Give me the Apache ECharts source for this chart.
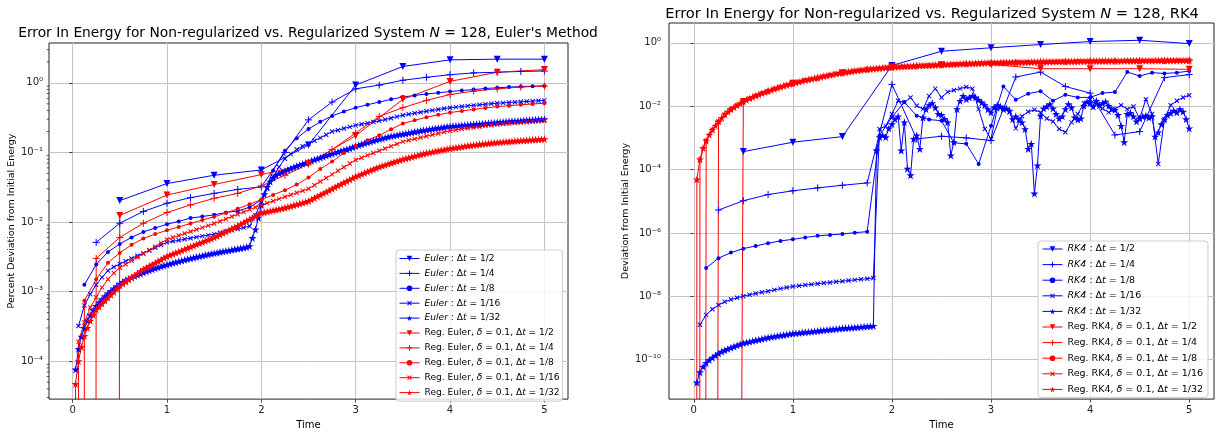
<!DOCTYPE html>
<html>
<head>
<meta charset="utf-8">
<script src="https://cdn.jsdelivr.net/npm/echarts@6/dist/echarts.min.js"></script>
<style>
  html, body { margin: 0; padding: 0; background: #ffffff; }
  #chart { width: 1218px; height: 435px; }
</style>
</head>
<body>
<div id="chart"></div>
<script>
// ---------------------------------------------------------------------------
// Energy error, N = 128. Time step labels and their sizes.
// ---------------------------------------------------------------------------
const stepLabels = ['1/2', '1/4', '1/8', '1/16', '1/32'];
const stepSizes = [0.5, 0.25, 0.125, 0.0625, 0.03125];

// Euler (non-regularized): samples at t = dt, 2dt, ..., 5
const eulerDt2 = [0.0203, 0.0357, 0.047, 0.056, 0.128, 0.93, 1.72, 2.14, 2.19, 2.19];
const eulerDt4 = [0.0051, 0.0096, 0.0142, 0.0186, 0.0224, 0.0258, 0.0294, 0.032, 0.10, 0.294,
  0.53, 0.82, 0.93, 1.09, 1.2, 1.31, 1.39, 1.42, 1.46, 1.48];
const eulerDt8 = [0.00125, 0.00246, 0.0037, 0.00485, 0.006, 0.0072, 0.0082, 0.0093, 0.0102, 0.0114,
  0.012, 0.0127, 0.0137, 0.0144, 0.0163, 0.0207, 0.055, 0.106, 0.16, 0.217,
  0.275, 0.335, 0.386, 0.44, 0.485, 0.53, 0.58, 0.625, 0.66, 0.69,
  0.72, 0.75, 0.777, 0.80, 0.83, 0.85, 0.87, 0.885, 0.895, 0.905];
const eulerDt16 = [3.2e-4, 6.3e-4, 9.2e-4, 1.25e-3, 1.6e-3, 2.0e-3, 2.26e-3, 2.5e-3,
  2.73e-3, 2.99e-3, 3.27e-3, 3.57e-3, 3.9e-3, 4.27e-3, 4.66e-3, 5.1e-3,
  5.28e-3, 5.46e-3, 5.65e-3, 5.85e-3, 6.06e-3, 6.27e-3, 6.48e-3, 6.7e-3,
  7.0e-3, 7.3e-3, 7.6e-3, 7.95e-3, 8.3e-3, 8.7e-3,
  0.0125, 0.0196, 0.030, 0.0445, 0.0617, 0.081, 0.095, 0.110, 0.123, 0.133,
  0.147, 0.162, 0.18, 0.2, 0.209, 0.221, 0.233, 0.245,
  0.254, 0.264, 0.274, 0.284, 0.297, 0.311, 0.327, 0.343,
  0.354, 0.366, 0.378, 0.39, 0.402, 0.414, 0.427, 0.44,
  0.448, 0.457, 0.466, 0.475, 0.484, 0.493, 0.501, 0.51,
  0.516, 0.522, 0.528, 0.534, 0.540, 0.546, 0.553, 0.56];
const eulerDt32 = [7.6e-5, 1.5e-4, 2.25e-4, 3.0e-4, 3.8e-4, 4.6e-4, 5.4e-4, 6.2e-4,
  7.0e-4, 7.8e-4, 8.6e-4, 9.4e-4, 1.02e-3, 1.11e-3, 1.2e-3, 1.3e-3,
  1.38e-3, 1.46e-3, 1.53e-3, 1.60e-3, 1.67e-3, 1.74e-3, 1.81e-3, 1.88e-3,
  1.95e-3, 2.02e-3, 2.09e-3, 2.16e-3, 2.23e-3, 2.30e-3, 2.37e-3, 2.44e-3,
  2.51e-3, 2.58e-3, 2.65e-3, 2.72e-3, 2.79e-3, 2.86e-3, 2.93e-3, 3.0e-3,
  3.07e-3, 3.14e-3, 3.21e-3, 3.28e-3, 3.35e-3, 3.42e-3, 3.49e-3, 3.56e-3,
  3.63e-3, 3.70e-3, 3.77e-3, 3.84e-3, 3.91e-3, 3.98e-3, 4.05e-3, 4.12e-3,
  4.19e-3, 4.27e-3, 4.36e-3, 4.5e-3,
  5.9e-3, 7.8e-3, 0.0115, 0.0175, 0.025, 0.032, 0.038, 0.043, 0.047, 0.050, 0.052, 0.054,
  0.0565, 0.059, 0.0615, 0.064, 0.0662, 0.0685, 0.0708, 0.073,
  0.0758, 0.0786, 0.0814, 0.0842, 0.087, 0.090, 0.093, 0.096,
  0.099, 0.102, 0.105, 0.108, 0.111, 0.114, 0.1185, 0.123,
  0.127, 0.131, 0.135, 0.139, 0.143, 0.147, 0.151, 0.155,
  0.159, 0.163, 0.167, 0.171, 0.174, 0.177, 0.181, 0.184,
  0.187, 0.191, 0.194, 0.198, 0.201, 0.205, 0.208, 0.211,
  0.215, 0.218, 0.221, 0.224, 0.227, 0.230, 0.234, 0.237,
  0.239, 0.241, 0.243, 0.245, 0.247, 0.249, 0.251, 0.253,
  0.255, 0.257, 0.259, 0.261, 0.263, 0.265, 0.267, 0.270,
  0.272, 0.274, 0.276, 0.278, 0.280, 0.282, 0.284, 0.286,
  0.288, 0.290, 0.292, 0.294, 0.295, 0.297, 0.298, 0.300];

// Regularized Euler (delta = 0.1): samples at t = 0, dt, ..., 5 (zero error at t = 0)
const regEulerDt2 = [0, 0.0124, 0.0244, 0.0346, 0.048, 0.069, 0.174, 0.579, 1.05, 1.42, 1.55];
const regEulerDt4 = [0, 0.003, 0.006, 0.0096, 0.0137, 0.0176, 0.0219, 0.0258, 0.033, 0.047, 0.068,
  0.11, 0.19, 0.33, 0.44, 0.56, 0.68, 0.76, 0.82, 0.87, 0.9];
const regEulerDt8 = [0, 7.4e-4, 1.5e-3, 2.6e-3, 3.6e-3, 4.7e-3, 5.8e-3, 6.7e-3, 7.6e-3, 8.5e-3, 9.5e-3,
  0.0107, 0.0119, 0.0135, 0.0155, 0.018, 0.021, 0.0245, 0.0287, 0.0346, 0.0435,
  0.058, 0.074, 0.098, 0.125, 0.15, 0.176, 0.215, 0.26, 0.29, 0.32,
  0.348, 0.374, 0.395, 0.415, 0.436, 0.456, 0.47, 0.484, 0.497, 0.51];
const regEulerDt16 = [0,
  1.9e-4, 3.6e-4, 5.9e-4, 8.3e-4, 1.15e-3, 1.5e-3, 1.85e-3, 2.2e-3,
  2.47e-3, 2.78e-3, 3.12e-3, 3.51e-3, 3.95e-3, 4.43e-3, 4.98e-3, 5.6e-3,
  5.98e-3, 6.39e-3, 6.82e-3, 7.29e-3, 7.78e-3, 8.31e-3, 8.88e-3, 9.5e-3,
  0.01026, 0.01108, 0.01197, 0.01293, 0.01396, 0.01508, 0.01629, 0.0176,
  0.0188, 0.0201, 0.0215, 0.023, 0.0246, 0.0263, 0.0281, 0.030,
  0.0338, 0.0381, 0.0429, 0.0484, 0.0545, 0.0614, 0.0692, 0.078,
  0.0841, 0.0908, 0.0979, 0.1056, 0.1139, 0.1229, 0.1326, 0.143,
  0.1496, 0.1565, 0.1637, 0.1712, 0.1791, 0.1873, 0.196, 0.205,
  0.2106, 0.2164, 0.2223, 0.2284, 0.2346, 0.2411, 0.2466, 0.252,
  0.2559, 0.2599, 0.2639, 0.268, 0.272, 0.276, 0.280, 0.284];
const regEulerDt32 = [0,
  4.7e-5, 1.0e-4, 1.6e-4, 2.3e-4, 3.0e-4, 3.8e-4, 4.6e-4, 5.5e-4,
  6.07e-4, 6.7e-4, 7.4e-4, 8.2e-4, 9.0e-4, 9.9e-4, 1.1e-3, 1.21e-3,
  1.30e-3, 1.39e-3, 1.49e-3, 1.59e-3, 1.71e-3, 1.83e-3, 1.96e-3, 2.10e-3,
  2.21e-3, 2.33e-3, 2.46e-3, 2.59e-3, 2.73e-3, 2.88e-3, 3.04e-3, 3.20e-3,
  3.33e-3, 3.47e-3, 3.61e-3, 3.75e-3, 3.90e-3, 4.06e-3, 4.23e-3, 4.40e-3,
  4.57e-3, 4.75e-3, 4.94e-3, 5.14e-3, 5.34e-3, 5.55e-3, 5.77e-3, 6.00e-3,
  6.29e-3, 6.60e-3, 6.93e-3, 7.27e-3, 7.62e-3, 8.00e-3, 8.39e-3, 8.80e-3,
  9.28e-3, 9.79e-3, 0.01033, 0.0109, 0.0115, 0.01213, 0.0128, 0.0135,
  0.0138, 0.0141, 0.0144, 0.0147, 0.0150, 0.0153, 0.01565, 0.0160,
  0.0165, 0.0169, 0.0174, 0.0179, 0.0184, 0.0189, 0.0195, 0.0200,
  0.0210, 0.0221, 0.0233, 0.0245, 0.0257, 0.0271, 0.0285, 0.0300,
  0.0316, 0.0332, 0.0349, 0.0367, 0.0386, 0.0406, 0.0428, 0.0450,
  0.0468, 0.0488, 0.0508, 0.0528, 0.0550, 0.0572, 0.0596, 0.0620,
  0.0640, 0.0661, 0.0682, 0.0704, 0.0727, 0.0751, 0.0775, 0.0800,
  0.0821, 0.0842, 0.0863, 0.0886, 0.0908, 0.0932, 0.0956, 0.0980,
  0.0999, 0.1018, 0.1037, 0.1057, 0.1077, 0.1097, 0.1118, 0.1140,
  0.1157, 0.1174, 0.1192, 0.1210, 0.1227, 0.1245, 0.1262, 0.1280,
  0.1294, 0.1308, 0.1322, 0.1336, 0.1350, 0.1364, 0.1377, 0.1390,
  0.1401, 0.1413, 0.1424, 0.1435, 0.1446, 0.1457, 0.1469, 0.1480,
  0.1490, 0.1500, 0.1510, 0.1520, 0.1530, 0.1540, 0.1550, 0.1560];

// RK4 (non-regularized): samples at t = dt, 2dt, ..., 5
const rk4Dt2 = [3.7e-4, 7.3e-4, 1.1e-3, 0.194, 0.545, 0.70, 0.885, 1.1, 1.21, 0.95];
const rk4Dt4 = [5.3e-6, 1.04e-5, 1.63e-5, 2.14e-5, 2.65e-5, 3.2e-5, 3.8e-5, 0.049, 9.3e-4, 1.13e-3,
  1.0e-3, 8.3e-4, 0.084, 0.12, 0.042, 0.026, 1.24e-3, 1.58e-3, 0.08, 0.1];
const rk4Dt8 = [7.8e-8, 1.6e-7, 2.4e-7, 3.2e-7, 3.9e-7, 4.75e-7, 5.6e-7, 6.3e-7, 7.2e-7, 8.1e-7,
  8.7e-7, 9.3e-7, 1.02e-6, 1.1e-6, 0.0012, 0.0045, 0.0135, 0.005, 0.0038, 0.0035,
  7e-4, 6.5e-4, 1.5e-4, 0.0024, 0.042, 0.016, 0.025, 0.0297, 0.0148, 0.023,
  0.019, 0.019, 0.026, 0.028, 0.12, 0.09, 0.115, 0.108, 0.115, 0.129];
const rk4Dt16 = [1.26e-9, 2.6e-9, 3.9e-9, 5.3e-9, 6.7e-9, 7.9e-9, 9.0e-9, 1.01e-8,
  1.12e-8, 1.23e-8, 1.34e-8, 1.45e-8, 1.6e-8, 1.75e-8, 1.9e-8, 2.05e-8,
  2.15e-8, 2.27e-8, 2.38e-8, 2.5e-8, 2.62e-8, 2.75e-8, 2.88e-8, 3.0e-8,
  3.15e-8, 3.3e-8, 3.45e-8, 3.6e-8, 3.8e-8,
  0.0019, 0.0024, 0.0057, 0.0148, 0.0131, 0.0188, 0.0103, 0.0081, 0.0212, 0.036,
  0.0188, 0.0284, 0.032, 0.036, 0.0406, 0.036, 0.0081, 0.0019, 9.3e-4, 0.0081,
  0.0085, 0.0064, 0.0020, 0.0048, 0.0067, 0.0077, 0.0064, 0.0041, 0.0033, 0.0019,
  0.0015, 0.0031, 0.0057, 0.0125, 0.0159, 0.0116, 0.0085, 0.0064, 0.0081, 0.0108,
  0.0081, 0.0098, 0.0041, 0.0167, 0.0057, 1.5e-4, 0.0039, 0.0108, 0.0148, 0.0188, 0.0223];
const rk4Dt32 = [1.9e-11, 4.0e-11, 6.0e-11, 7.9e-11, 9.8e-11, 1.16e-10, 1.36e-10, 1.58e-10,
  1.78e-10, 1.98e-10, 2.18e-10, 2.4e-10, 2.6e-10, 2.83e-10, 3.06e-10, 3.3e-10,
  3.5e-10, 3.7e-10, 3.9e-10, 4.1e-10, 4.3e-10, 4.5e-10, 4.75e-10, 5.0e-10,
  5.2e-10, 5.4e-10, 5.6e-10, 5.8e-10, 6.0e-10, 6.25e-10, 6.5e-10, 6.7e-10,
  6.85e-10, 7.0e-10, 7.2e-10, 7.35e-10, 7.5e-10, 7.7e-10, 7.9e-10, 8.1e-10,
  8.3e-10, 8.5e-10, 8.7e-10, 8.9e-10, 9.1e-10, 9.3e-10, 9.55e-10, 9.8e-10,
  9.95e-10, 1.01e-9, 1.025e-9, 1.04e-9, 1.06e-9, 1.08e-9, 1.1e-9, 1.12e-9, 1.14e-9, 1.17e-9,
  4.0e-4, 1.05e-3, 1.2e-3, 1.05e-3, 2.0e-3, 2.7e-3, 3.9e-3, 4.8e-3, 4.0e-4, 3.1e-3,
  1.07e-4, 6.6e-5, 9.3e-4, 1.2e-3, 4.5e-4, 4.4e-3, 8.1e-3, 0.0108, 0.0125, 0.0091,
  0.0057, 0.0053, 0.0039, 0.0031, 2.8e-4, 7.3e-4, 0.0081, 0.0148, 0.0212, 0.0167,
  0.0188, 0.0212, 0.0188, 0.0159, 0.0131, 0.0108, 0.0081, 0.0064, 0.0091, 0.0108,
  0.0098, 0.0081, 0.0085, 0.0072, 0.0039, 0.0048, 0.0038, 0.0031, 0.0019, 4.5e-4,
  6.5e-4, 1.76e-5, 1.36e-4, 0.0050, 0.0085, 0.0098, 0.0116, 0.0085, 0.0057, 0.0041,
  0.0048, 0.0081, 0.0116, 0.0091, 0.0044, 0.0038, 0.0041, 0.0103, 0.0138, 0.0125,
  0.0098, 0.0148, 0.0108, 0.0125, 0.0138, 0.0103, 0.0081, 0.0077, 0.0053, 0.0024,
  7.3e-4, 0.0057, 0.0061, 0.0048, 0.0033, 0.0041, 0.0048, 0.0050, 0.0044, 0.0048,
  0.0011, 0.0015, 0.0027, 0.0038, 0.0053, 0.0061, 0.0072, 0.0064, 0.0081, 0.0067,
  0.0039, 0.0020];

// Regularized RK4 (delta = 0.1): samples at t = 0, dt, ..., 5 (zero error at t = 0)
const regRk4Dt2 = [0, 0.0141, 0.053, 0.115, 0.172, 0.205, 0.209, 0.153, 0.153, 0.153, 0.146];
const regRk4Dt4 = [0, 3.3e-3, 0.0141, 0.030, 0.053, 0.080, 0.115, 0.146, 0.172, 0.188, 0.205,
  0.221, 0.235, 0.243, 0.251, 0.259, 0.265, 0.269, 0.273, 0.2765, 0.279];
const regRk4Dt8 = [0, 8.2e-4, 3.3e-3, 8.0e-3, 0.0141, 0.0215, 0.030, 0.041, 0.053, 0.0663, 0.080,
  0.0973, 0.115, 0.131, 0.146, 0.1595, 0.172, 0.180, 0.188, 0.196, 0.205,
  0.213, 0.221, 0.229, 0.235, 0.239, 0.243, 0.247, 0.251, 0.255, 0.259,
  0.262, 0.265, 0.267, 0.269, 0.271, 0.273, 0.275, 0.2765, 0.2775, 0.279];
const regRk4Dt16 = [0,
  2.1e-4, 8.2e-4, 1.8e-3, 3.3e-3, 5.5e-3, 8.0e-3, 0.0107, 0.0141,
  0.0176, 0.0215, 0.0258, 0.030, 0.0354, 0.041, 0.047, 0.053,
  0.0596, 0.0663, 0.073, 0.080, 0.0886, 0.0973, 0.106, 0.115,
  0.123, 0.131, 0.139, 0.146, 0.153, 0.1595, 0.166, 0.172,
  0.176, 0.180, 0.184, 0.188, 0.192, 0.196, 0.200, 0.205,
  0.209, 0.213, 0.217, 0.221, 0.225, 0.229, 0.232, 0.235,
  0.237, 0.239, 0.241, 0.243, 0.245, 0.247, 0.249, 0.251,
  0.253, 0.255, 0.257, 0.259, 0.260, 0.262, 0.263, 0.265,
  0.266, 0.267, 0.268, 0.269, 0.270, 0.271, 0.272, 0.273,
  0.274, 0.275, 0.276, 0.2765, 0.277, 0.2775, 0.2782, 0.279];
const regRk4Dt32 = [0,
  4.9e-5, 2.1e-4, 4.8e-4, 8.2e-4, 1.26e-3, 1.8e-3, 2.45e-3, 3.3e-3,
  4.3e-3, 5.5e-3, 6.7e-3, 8.0e-3, 9.3e-3, 0.0107, 0.0123, 0.0141,
  0.0158, 0.0176, 0.0195, 0.0215, 0.0236, 0.0258, 0.028, 0.030,
  0.0327, 0.0354, 0.0382, 0.041, 0.044, 0.047, 0.050, 0.053,
  0.0563, 0.0596, 0.063, 0.0663, 0.0697, 0.073, 0.0765, 0.080,
  0.0843, 0.0886, 0.093, 0.0973, 0.1015, 0.106, 0.1105, 0.115,
  0.119, 0.123, 0.127, 0.131, 0.135, 0.139, 0.1425, 0.146,
  0.1495, 0.153, 0.156, 0.1595, 0.163, 0.166, 0.169, 0.172,
  0.174, 0.176, 0.178, 0.180, 0.182, 0.184, 0.186, 0.188,
  0.190, 0.192, 0.194, 0.196, 0.198, 0.200, 0.2025, 0.205,
  0.207, 0.209, 0.211, 0.213, 0.215, 0.217, 0.219, 0.221,
  0.223, 0.225, 0.227, 0.229, 0.231, 0.232, 0.234, 0.235,
  0.236, 0.237, 0.238, 0.239, 0.240, 0.241, 0.242, 0.243,
  0.244, 0.245, 0.246, 0.247, 0.248, 0.249, 0.250, 0.251,
  0.252, 0.253, 0.254, 0.255, 0.256, 0.257, 0.258, 0.259,
  0.259, 0.260, 0.261, 0.262, 0.263, 0.263, 0.264, 0.265,
  0.2655, 0.266, 0.2665, 0.267, 0.2675, 0.268, 0.2685, 0.269,
  0.2695, 0.270, 0.2705, 0.271, 0.2715, 0.272, 0.2725, 0.273,
  0.2735, 0.274, 0.2745, 0.275, 0.2755, 0.276, 0.2762, 0.2765,
  0.2768, 0.277, 0.2775, 0.278, 0.2782, 0.2785, 0.2788, 0.279];

// Axis tick values
const timeTicks = [0, 1, 2, 3, 4, 5];
const eulerDecadeTicks = [1e-4, 1e-3, 1e-2, 1e-1, 1];
const rk4DecadeTicks = [1e-10, 1e-8, 1e-6, 1e-4, 1e-2, 1];

// ---------------------------------------------------------------------------
// Styling helpers
// ---------------------------------------------------------------------------
const FONT = 'DejaVu Sans';
const BLUE = '#0000ff';
const RED = '#ff0000';
const LOG_FLOOR = 1e-300;   // zero error drawn at the far bottom of a log axis
const T_MIN = -0.25, T_MAX = 5.25;

const CROSS = 'path://M0,5L10,5M5,0L5,10';
const STAR = 'path://M5,0L6.18,3.62L10,3.62L6.91,5.88L8.09,9.51L5,7.27L1.91,9.51L3.09,5.88L0,3.62L3.82,3.62Z';
const markerStyles = {
  '1/2':  { symbol: 'triangle', size: 7, rotate: 180, stroke: false },
  '1/4':  { symbol: CROSS, size: 7, rotate: 0, stroke: true },
  '1/8':  { symbol: 'circle', size: 4, rotate: 0, stroke: false },
  '1/16': { symbol: CROSS, size: 6, rotate: 45, stroke: true },
  '1/32': { symbol: STAR, size: 8, rotate: 0, stroke: false }
};

function lineSeries(name, values, stepIdx, startsAtZero, color, axisIdx) {
  const dt = stepSizes[stepIdx];
  const m = markerStyles[stepLabels[stepIdx]];
  const data = values.map((v, i) => [(startsAtZero ? i : i + 1) * dt, v > 0 ? v : LOG_FLOOR]);
  return {
    type: 'line', name, data,
    xAxisIndex: axisIdx, yAxisIndex: axisIdx,
    symbol: m.symbol, symbolSize: m.size, symbolRotate: m.rotate,
    showSymbol: true, clip: true, animation: false,
    lineStyle: { color, width: 1 },
    itemStyle: { color, borderColor: color, borderWidth: m.stroke ? 1 : 0 },
    emphasis: { disabled: true }
  };
}

const SUP = { '-': '\u207B', '0': '\u2070', '1': '\u00B9', '2': '\u00B2', '3': '\u00B3', '4': '\u2074',
  '5': '\u2075', '6': '\u2076', '7': '\u2077', '8': '\u2078', '9': '\u2079' };
function decadeLabel(v) {
  const e = Math.round(Math.log10(v));
  return '10' + String(e).split('').map(c => SUP[c]).join('');
}

function legendLabel(name) {
  return name
    .replace(/^(Euler|RK4):/, '{i|$1} :')
    .replace('δ', '{i|δ}')
    .replace('Δt', 'Δ{i|t}');
}

// Minor ticks (2..9 per decade) on the Euler panel's log axis
const EULER_Y = [2.85e-5, 3.74];
const RK4_Y = [5.7e-12, 4.24];
const eulerMinorTicks = [];
for (let e = -5; e <= 0; e++) {
  for (let m = 2; m <= 9; m++) {
    const v = m * Math.pow(10, e);
    if (v >= EULER_Y[0] && v <= EULER_Y[1]) eulerMinorTicks.push([T_MIN, v]);
  }
}

// ---------------------------------------------------------------------------
// Series
// ---------------------------------------------------------------------------
const eulerSets = [eulerDt2, eulerDt4, eulerDt8, eulerDt16, eulerDt32];
const regEulerSets = [regEulerDt2, regEulerDt4, regEulerDt8, regEulerDt16, regEulerDt32];
const rk4Sets = [rk4Dt2, rk4Dt4, rk4Dt8, rk4Dt16, rk4Dt32];
const regRk4Sets = [regRk4Dt2, regRk4Dt4, regRk4Dt8, regRk4Dt16, regRk4Dt32];

const series = [];
const leftLegend = [], rightLegend = [];
function legendEntry(name, stepIdx, color) {
  const m = markerStyles[stepLabels[stepIdx]];
  return { name, itemStyle: { color, borderColor: color, borderWidth: m.stroke ? 1 : 0 } };
}
stepLabels.forEach((lab, i) => {
  const n = 'Euler: Δt = ' + lab;
  leftLegend.push(legendEntry(n, i, BLUE));
  series.push(lineSeries(n, eulerSets[i], i, false, BLUE, 0));
});
stepLabels.forEach((lab, i) => {
  const n = 'Reg. Euler, δ = 0.1, Δt = ' + lab;
  leftLegend.push(legendEntry(n, i, RED));
  series.push(lineSeries(n, regEulerSets[i], i, true, RED, 0));
});
stepLabels.forEach((lab, i) => {
  const n = 'RK4: Δt = ' + lab;
  rightLegend.push(legendEntry(n, i, BLUE));
  series.push(lineSeries(n, rk4Sets[i], i, false, BLUE, 1));
});
stepLabels.forEach((lab, i) => {
  const n = 'Reg. RK4, δ = 0.1, Δt = ' + lab;
  rightLegend.push(legendEntry(n, i, RED));
  series.push(lineSeries(n, regRk4Sets[i], i, true, RED, 1));
});

series.push({
  type: 'custom', xAxisIndex: 0, yAxisIndex: 0, silent: true, clip: false, z: 5,
  data: eulerMinorTicks,
  renderItem: (params, api) => {
    const p = api.coord([api.value(0), api.value(1)]);
    return { type: 'line', shape: { x1: p[0] - 2.2, y1: p[1], x2: p[0], y2: p[1] },
      style: { stroke: '#222', lineWidth: 0.8 } };
  }
});

// ---------------------------------------------------------------------------
// Axes and layout
// ---------------------------------------------------------------------------
function timeAxis(gridIndex) {
  return {
    type: 'value', gridIndex, min: T_MIN, max: T_MAX,
    name: 'Time', nameLocation: 'middle', nameGap: 18,
    nameTextStyle: { fontFamily: FONT, fontSize: 10, color: '#000' },
    axisLine: { show: false },
    axisTick: { show: true, length: 3.5, lineStyle: { color: '#222', width: 0.8 }, customValues: timeTicks },
    axisLabel: { fontFamily: FONT, fontSize: 10, color: '#222', margin: 6, customValues: timeTicks },
    splitLine: { show: true, lineStyle: { color: '#c4c4c4', width: 1 } }
  };
}
function logAxis(gridIndex, range, ticks, name, nameGap, labelMargin) {
  return {
    type: 'log', logBase: 10, gridIndex, min: range[0], max: range[1],
    name, nameLocation: 'middle', nameGap,
    nameTextStyle: { fontFamily: FONT, fontSize: 9.5, color: '#000' },
    axisLine: { show: false },
    axisTick: { show: true, length: 3.5, lineStyle: { color: '#222', width: 0.8 }, customValues: ticks },
    axisLabel: { fontFamily: FONT, fontSize: 10, color: '#222', margin: labelMargin,
      customValues: ticks, formatter: decadeLabel },
    splitLine: { show: true, lineStyle: { color: '#c4c4c4', width: 1 } }
  };
}
function legendBox(entries, left, top, fontSize, lineHeight, gap, pad) {
  return {
    data: entries, orient: 'vertical', left, top,
    itemWidth: 20, itemHeight: 7, itemGap: gap, padding: pad,
    backgroundColor: 'rgba(255,255,255,0.8)', borderColor: '#cccccc', borderWidth: 1, borderRadius: 3,
    selectedMode: false,
    lineStyle: { width: 1 },
    formatter: legendLabel,
    textStyle: { fontFamily: FONT, fontSize, lineHeight, color: '#000',
      rich: { i: { fontFamily: FONT, fontSize, lineHeight, fontStyle: 'italic', color: '#000' } } }
  };
}

const option = {
  backgroundColor: '#ffffff',
  animation: false,
  grid: [
    { left: 49, top: 43, width: 519, height: 360, show: true, borderColor: '#222', borderWidth: 1 },
    { left: 669, top: 23, width: 545, height: 379, show: true, borderColor: '#222', borderWidth: 1 }
  ],
  xAxis: [timeAxis(0), timeAxis(1)],
  yAxis: [
    logAxis(0, EULER_Y, eulerDecadeTicks, 'Percent Deviation from Initial Energy', 32, 6),
    logAxis(1, RK4_Y, rk4DecadeTicks, 'Deviation from Initial Energy', 38, 8)
  ],
  legend: [
    legendBox(leftLegend, 396, 250, 9.1, 11, 3.9, [3, 3, 3, 3]),
    legendBox(rightLegend, 1038, 241, 9.5, 12, 3.6, [2, 5, 2, 4])
  ],
  graphic: [
    { type: 'text', x: 308, y: 33, silent: true, style: {
      text: 'Error In Energy for Non-regularized vs. Regularized System {i|N} = 128, Euler\'s Method',
      fontFamily: FONT, fontSize: 13.8, fill: '#000', align: 'center', verticalAlign: 'middle',
      rich: { i: { fontFamily: FONT, fontSize: 13.8, fontStyle: 'italic', fill: '#000' } } } },
    { type: 'text', x: 932, y: 14, silent: true, style: {
      text: 'Error In Energy for Non-regularized vs. Regularized System {i|N} = 128, RK4',
      fontFamily: FONT, fontSize: 14.6, fill: '#000', align: 'center', verticalAlign: 'middle',
      rich: { i: { fontFamily: FONT, fontSize: 14.6, fontStyle: 'italic', fill: '#000' } } } }
  ],
  series
};

const chart = echarts.init(document.getElementById('chart'), null, { renderer: 'canvas' });
chart.setOption(option);
</script>
</body>
</html>
